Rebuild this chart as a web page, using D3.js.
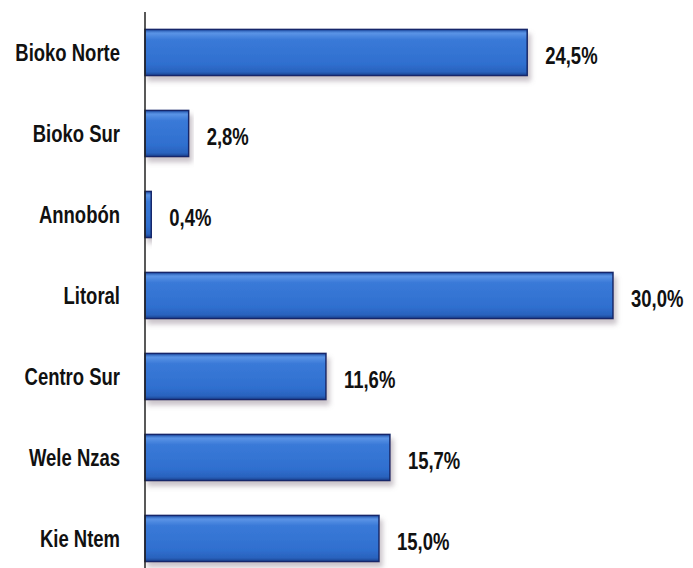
<!DOCTYPE html>
<html>
<head>
<meta charset="utf-8">
<script src="https://cdn.jsdelivr.net/npm/d3@7"></script>
<style>
  body { margin: 0; background: #fff; }
  text { font-family: "Liberation Sans", Arial, sans-serif; font-weight: bold; fill: #111; }
</style>
</head>
<body>
<script>
// data
var regions = ["Bioko Norte", "Bioko Sur", "Annobón", "Litoral", "Centro Sur", "Wele Nzas", "Kie Ntem"];
var shares = [24.5, 2.8, 0.4, 30.0, 11.6, 15.7, 15.0];
var shareLabels = ["24,5%", "2,8%", "0,4%", "30,0%", "11,6%", "15,7%", "15,0%"];

var width = 693, height = 568;
var x0 = 145;
var squeeze = 0.77; // text in the picture is condensed

var svg = d3.select("body").append("svg")
    .attr("width", width)
    .attr("height", height);

var defs = svg.append("defs");
var grad = defs.append("linearGradient")
    .attr("id", "barGrad")
    .attr("x1", 0).attr("y1", 0).attr("x2", 0).attr("y2", 1);
grad.append("stop").attr("offset", "0%").attr("stop-color", "#1d4fa8");
grad.append("stop").attr("offset", "8%").attr("stop-color", "#5b94e6");
grad.append("stop").attr("offset", "22%").attr("stop-color", "#3a7ad8");
grad.append("stop").attr("offset", "75%").attr("stop-color", "#2f6fcf");
grad.append("stop").attr("offset", "92%").attr("stop-color", "#2a62bd");
grad.append("stop").attr("offset", "100%").attr("stop-color", "#173f8c");

var shadow = defs.append("filter").attr("id", "shadow")
    .attr("x", "-5%").attr("y", "-20%").attr("width", "115%").attr("height", "160%");
shadow.append("feDropShadow")
    .attr("dx", 3).attr("dy", 5).attr("stdDeviation", 2.5)
    .attr("flood-color", "#8a7a8a").attr("flood-opacity", 0.45);

var x = d3.scaleLinear()
    .domain([0, 30])
    .range([x0, 613]);

var y = d3.scaleBand()
    .domain(regions)
    .range([12, 579])
    .paddingInner(0.43)
    .paddingOuter(0.215);

// bars
svg.selectAll("rect.bar").data(regions)
    .enter()
    .append("rect")
    .attr("class", "bar")
    .attr("x", x(0))
    .attr("y", function(d) { return y(d); })
    .attr("width", function(d, i) { return x(shares[i]) - x(0); })
    .attr("height", y.bandwidth())
    .attr("fill", "url(#barGrad)")
    .attr("stroke", "#14286a")
    .attr("stroke-width", 1.5)
    .attr("filter", "url(#shadow)");

// axis line
svg.append("line")
    .attr("x1", x0).attr("x2", x0)
    .attr("y1", 12).attr("y2", height)
    .attr("stroke", "#222")
    .attr("stroke-width", 1.5);

// category labels
svg.selectAll("text.cat").data(regions)
    .enter()
    .append("text")
    .attr("class", "cat")
    .attr("transform", function(d) {
        return "translate(120," + (y(d) + y.bandwidth() / 2) + ") scale(" + squeeze + ",1)";
    })
    .attr("dy", "0.35em")
    .attr("text-anchor", "end")
    .attr("font-size", "24px")
    .text(function(d) { return d; });

// value labels
svg.selectAll("text.val").data(regions)
    .enter()
    .append("text")
    .attr("class", "val")
    .attr("transform", function(d, i) {
        return "translate(" + (x(shares[i]) + 18) + "," + (y(d) + y.bandwidth() / 2 + 3) + ") scale(" + squeeze + ",1)";
    })
    .attr("dy", "0.35em")
    .attr("font-size", "24px")
    .text(function(d, i) { return shareLabels[i]; });
</script>
</body>
</html>
